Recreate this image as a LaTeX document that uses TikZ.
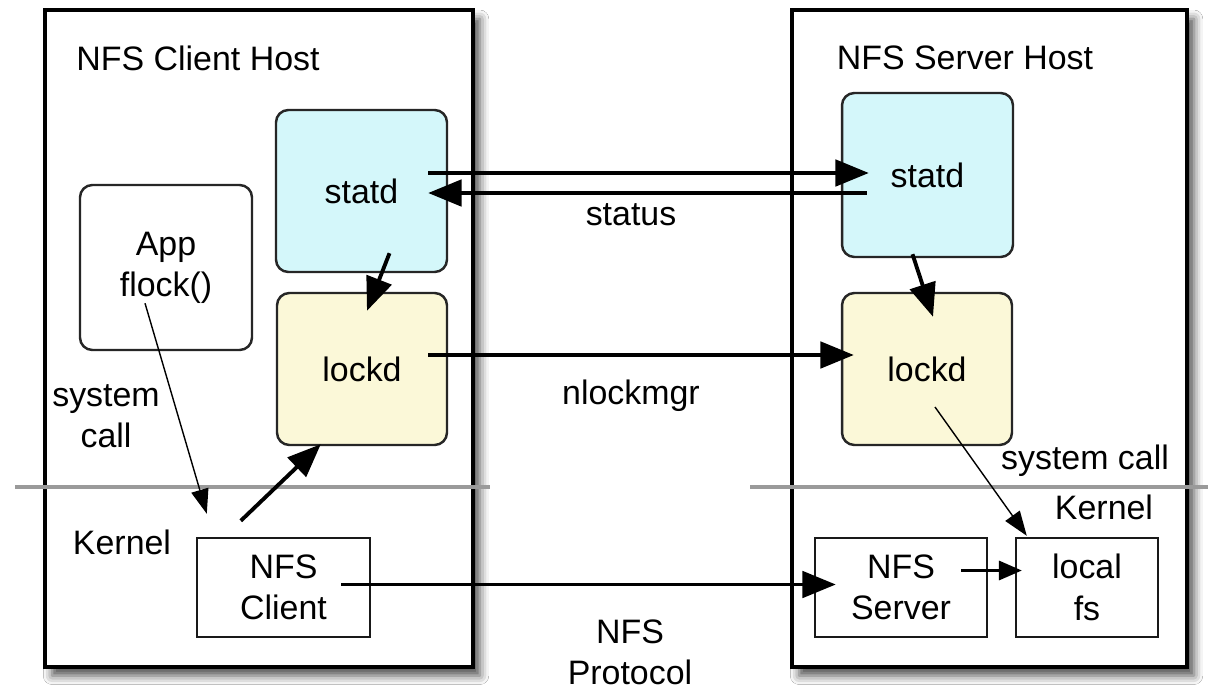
\documentclass[tikz,border=0pt]{standalone}
\usepackage{fontspec}
\setmainfont{Liberation Sans}
\usetikzlibrary{arrows.meta,calc,shadows.blur}

\definecolor{statdfill}{HTML}{D4F7FA}
\definecolor{lockdfill}{HTML}{FBF8D8}
\definecolor{divider}{HTML}{9A9A9A}

\begin{document}
\begin{tikzpicture}[x=0.02cm,y=-0.02cm,
  lbl/.style={font=\fontsize{19.3}{23.5}\selectfont, align=center, inner sep=0pt, text=black},
  host/.style={draw=black, line width=2pt, fill=white,
    blur shadow={shadow xshift=4pt, shadow yshift=-5pt, shadow blur radius=5pt, shadow opacity=70}},
  daemon/.style={lbl, draw=black!85, line width=1.4pt, rounded corners=7pt,
    minimum width=3.42cm},
  kbox/.style={lbl, draw=black!90, line width=1.4pt, minimum height=1.98cm},
  bigarrow/.style={line width=2.2pt, -{Triangle[length=19pt,width=15pt]}},
  midarrow/.style={line width=1.2pt, -{Triangle[length=13pt,width=11pt]}},
  thinarrow/.style={line width=0.8pt, -{Triangle[length=14pt,width=10pt]}},
  sep/.style={draw=divider, line width=2.2pt}
]
\useasboundingbox[fill=white] (0,0) rectangle (1208,690);

% host frames
\node[host, minimum width=8.56cm, minimum height=13.14cm] (chost) at (259,338.5) {};
\node[host, minimum width=7.90cm, minimum height=13.14cm] (shost) at (989.5,338.5) {};

% client side
\node[daemon, fill=statdfill, minimum height=3.24cm] (cstatd) at (361.5,191) {statd};
\node[daemon, fill=lockdfill, minimum height=3.04cm, minimum width=3.40cm] (clockd) at (362,369) {lockd};
\node[daemon, fill=white, minimum height=3.30cm, minimum width=3.44cm] (app) at (166,267.5) {App\\flock()};
\node[kbox, minimum width=3.46cm] (cclient) at (283.5,587.5) {NFS\\Client};

% server side
\node[daemon, fill=statdfill, minimum height=3.28cm] (sstatd) at (927.5,175) {statd};
\node[daemon, fill=lockdfill, minimum height=3.04cm, minimum width=3.40cm] (slockd) at (927,369) {lockd};
\node[kbox, minimum width=3.44cm] (nfsserver) at (901,587.5) {NFS\\Server};
\node[kbox, minimum width=2.84cm] (localfs) at (1087,587.5) {local\\fs};

% user / kernel boundaries
\coordinate (cdivl) at (15,487);
\coordinate (cdivr) at (490,487);
\coordinate (sdivl) at (750,487);
\coordinate (sdivr) at (1208,487);
\draw[sep] (cdivl) -- (cdivr);
\draw[sep] (sdivl) -- (sdivr);

% labels
\node[lbl] (ctitle) at (198,58) {NFS Client Host};
\node[lbl] (stitle) at (965,58) {NFS Server Host};
\node[lbl] (status) at (631,215) {status};
\node[lbl] (nlm) at (631,396) {nlockmgr};
\node[lbl] (proto) at (630,652) {NFS\\Protocol};
\node[lbl] (csys) at (106,416) {system\\call};
\node[lbl] (ssys) at (1085,461) {system call};
\node[lbl] (ckern) at (122,542) {Kernel};
\node[lbl] (skern) at (1104,507) {Kernel};

% status monitor traffic
\draw[bigarrow] ($(cstatd.east)+(-20,-18)$) -- ($(sstatd.west)+(28,-2)$);
\draw[bigarrow] ($(sstatd.west)+(26,18)$) -- ($(cstatd.east)+(-20,2)$);

% lock manager and NFS traffic
\draw[bigarrow] ($(clockd.east)+(-20,-14)$) -- ($(slockd.west)+(13,-14)$);
\draw[bigarrow] ($(cclient.east)+(-30,-3)$) -- ($(nfsserver.west)+(22,-3)$);
\draw[midarrow] ($(nfsserver.east)+(-27,-17)$) -- ($(localfs.west)+(7,-17)$);

% statd to lockd on each host
\draw[bigarrow] ($(cstatd.south)+(28,-20)$) -- ($(clockd.north)+(5,19)$);
\draw[bigarrow] ($(sstatd.south)+(-15,-4)$) -- ($(slockd.north)+(6,25)$);

% system calls
\draw[thinarrow] ($(app.south)+(-21,-48)$) -- ($(cclient.north west)+(11,-23)$);
\draw[bigarrow] ($(cclient.north west)+(45,-16)$) -- ($(clockd.south west)+(45,-2)$);
\draw[thinarrow] ($(slockd.center)+(8,38)$) -- ($(localfs.north west)+(12,-1)$);
\end{tikzpicture}
\end{document}
